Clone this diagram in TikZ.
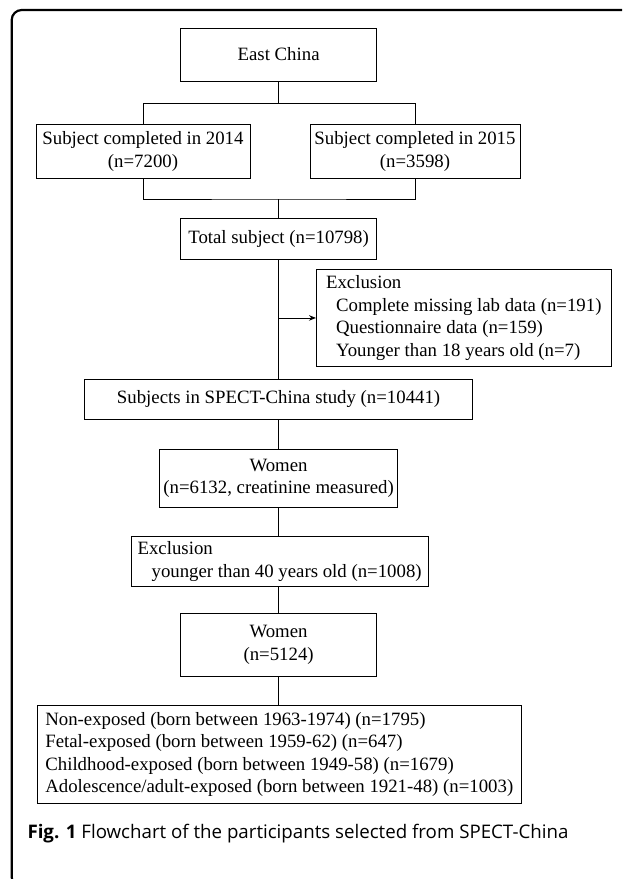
\documentclass[tikz,border=0pt]{standalone}
\usepackage{fontspec}
\setmainfont{Liberation Serif}
\newfontfamily\capfont{Open Sans}
\usetikzlibrary{arrows.meta}

\begin{document}
\begin{tikzpicture}[x=1pt,y=-1pt]
% 1 = 1px of the figure, y runs downwards
    \def\XMID{278.6}
    \def\XLEFT{143}
    \def\XRIGHT{415}
    \def\LW{0.9pt} %width of box lines
    \def\SPLITY{103.7}
    \def\JOINY{199}

    \tikzset{
      box/.style={draw,line width=\LW,inner sep=0pt,align=center,
        font=\fontsize{18.8}{22.6}\selectfont},
      listbox/.style={box,align=left,anchor=north west},
      link/.style={line width=\LW},
    }

    \useasboundingbox (0,0) rectangle (622,879);

    % OUTER FRAME
    \begin{scope}
      \clip (0,0) rectangle (622,879);
      \draw[line width=2.2pt,rounded corners=10pt] (11.7,887) rectangle (660,10);
    \end{scope}

    % TOP: REGION AND TWO YEARS
    \node[box,minimum width=196.5pt,minimum height=53pt] (east)
        at (\XMID,54.5) {East China};
    \node[box,minimum width=214pt,minimum height=54pt] (y2014)
        at (\XLEFT,151.4) {Subject completed in 2014\\(n=7200)};
    \node[box,minimum width=210pt,minimum height=54pt] (y2015)
        at (\XRIGHT,151.4) {Subject completed in 2015\\(n=3598)};
    \node[box,minimum width=196.5pt,minimum height=41pt] (total)
        at (\XMID,238.8) {Total subject (n=10798)};

    % FIRST EXCLUSION
    \node[listbox,minimum width=294.7pt,minimum height=97pt] (exclA)
        at (316,269) {Exclusion\\
        \hspace*{10pt}Complete missing lab data (n=191)\\
        \hspace*{10pt}Questionnaire data (n=159)\\
        \hspace*{10pt}Younger than 18 years old (n=7)};

    \node[box,minimum width=388pt,minimum height=40.3pt] (spect)
        at (\XMID,399.2) {Subjects in SPECT-China study (n=10441)};
    \node[box,minimum width=238.4pt,minimum height=58pt] (womenA)
        at (\XMID,478.3) {Women\\(n=6132, creatinine measured)};

    % SECOND EXCLUSION
    \node[listbox,minimum width=297pt,minimum height=50.5pt] (exclB)
        at (130.7,535.5) {Exclusion\\
        \hspace*{14pt}younger than 40 years old (n=1008)};

    \node[box,minimum width=196.5pt,minimum height=62.7pt] (womenB)
        at (\XMID,644.7) {Women\\(n=5124)};

    % EXPOSURE GROUPS
    \node[listbox,minimum width=484.3pt,minimum height=97.4pt] (groups)
        at (36.7,705.3) {Non-exposed (born between 1963-1974) (n=1795)\\
        Fetal-exposed (born between 1959-62) (n=647)\\
        Childhood-exposed (born between 1949-58) (n=1679)\\
        Adolescence/adult-exposed (born between 1921-48) (n=1003)};

    % CONNECTORS
    \draw[link] (east.south) -- (east.south |- 0,\SPLITY) coordinate (split);
    \draw[link] (y2014.north) |- (split) -| (y2015.north);
    \coordinate (join) at (\XMID,\JOINY);
    \draw[link] (y2014.south) |- (join) -| (y2015.south);
    \draw[link] (join) -- (total.north);
    \draw[link] (total.south) -- (spect.north);
    \draw[link,-{Stealth[length=7pt,width=5.5pt]}]
        (total.south |- exclA.west) coordinate (tap) -- (exclA.west);
    \draw[link] (spect.south) -- (womenA.north);
    \draw[link] (womenA.south) -- (womenA.south |- exclB.north);
    \draw[link] (womenB.north |- exclB.south) -- (womenB.north);
    \draw[link] (womenB.south) -- (womenB.south |- groups.north);

    % CAPTION
    \node[anchor=west,inner sep=0pt,font=\capfont\fontsize{18.7}{22}\selectfont] (caption)
        at (27.3,833.3) {\textbf{Fig. 1} Flowchart of the participants selected from SPECT-China};

\end{tikzpicture}
\end{document}
